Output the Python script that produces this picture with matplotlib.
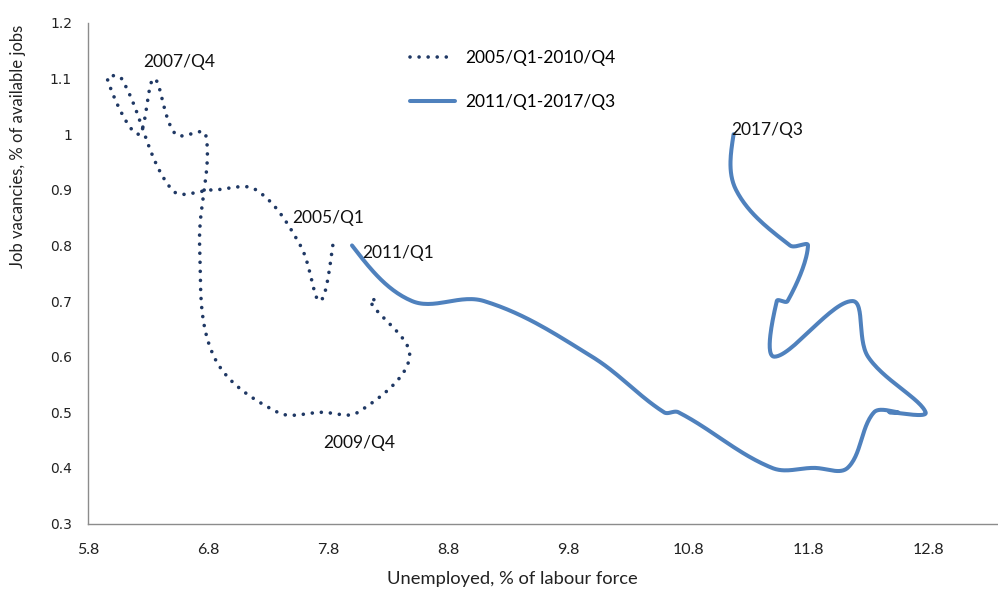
import numpy as np
import matplotlib
matplotlib.use("Agg")
import matplotlib.pyplot as plt

# ---- data ----
# Series 1: 2005/Q1 - 2010/Q4 (unemployment %, vacancy rate %)
u_0510 = [7.84, 7.73, 7.57, 7.20, 6.85, 6.50, 6.08, 5.96, 6.22, 6.35, 6.53, 6.78,
          6.73, 6.85, 7.38, 7.75, 8.05, 8.48, 8.15, 8.24]
v_0510 = [0.80, 0.70, 0.80, 0.90, 0.90, 0.90, 1.10, 1.10, 1.00, 1.10, 1.00, 1.00,
          0.80, 0.60, 0.50, 0.50, 0.50, 0.60, 0.70, 0.70]
# Series 2: 2011/Q1 - 2017/Q3
u_1117 = [8.00, 8.50, 9.10, 10.00, 10.60, 10.72, 11.50, 11.85, 12.13, 12.35, 12.55,
          12.48, 12.78, 12.30, 12.17, 11.52, 11.54, 11.63, 11.80, 11.65, 11.20, 11.18]
v_1117 = [0.80, 0.70, 0.70, 0.60, 0.50, 0.50, 0.40, 0.40, 0.40, 0.50, 0.50,
          0.50, 0.50, 0.60, 0.70, 0.60, 0.70, 0.70, 0.80, 0.80, 0.90, 1.00]

series_names = ["2005/Q1-2010/Q4", "2011/Q1-2017/Q3"]
point_labels = ["2007/Q4", "2005/Q1", "2011/Q1", "2009/Q4", "2017/Q3"]
label_x = [6.56, 7.80, 8.38, 8.06, 11.46]
label_y = [1.13, 0.85, 0.787, 0.445, 1.008]

x_ticks = [5.8, 6.8, 7.8, 8.8, 9.8, 10.8, 11.8, 12.8]
y_ticks = [0.3, 0.4, 0.5, 0.6, 0.7, 0.8, 0.9, 1.0, 1.1, 1.2]
y_tick_labels = ["0.3", "0.4", "0.5", "0.6", "0.7", "0.8", "0.9", "1", "1.1", "1.2"]

W, H = 998, 589
PX_X, PX_Y = 120.0, 556.1   # screen pixels per data unit (used for smoothing only)


def smooth(xs, ys, tension=0.36, n=30):
    """Excel-like smoothed line: cubic Bezier through the points, with
    control arms proportional to the neighbouring segment lengths."""
    P = np.column_stack([np.asarray(xs, float) * PX_X, np.asarray(ys, float) * PX_Y])
    m = len(P)
    cb = P.copy()
    ca = P.copy()
    for i in range(1, m - 1):
        d0 = np.linalg.norm(P[i] - P[i - 1])
        d1 = np.linalg.norm(P[i + 1] - P[i])
        T = P[i + 1] - P[i - 1]
        s = d0 + d1 if d0 + d1 > 0 else 1.0
        cb[i] = P[i] - T * tension * d0 / s
        ca[i] = P[i] + T * tension * d1 / s
    ca[0] = P[0] + (cb[1] - P[0]) * 0.5
    cb[-1] = P[-1] + (ca[-2] - P[-1]) * 0.5
    t = np.linspace(0, 1, n, endpoint=False)[:, None]
    out = []
    for i in range(m - 1):
        seg = ((1 - t) ** 3) * P[i] + 3 * (1 - t) ** 2 * t * ca[i] \
            + 3 * (1 - t) * t ** 2 * cb[i + 1] + t ** 3 * P[i + 1]
        out.append(seg)
    out.append(P[-1][None, :])
    S = np.vstack(out)
    return S[:, 0] / PX_X, S[:, 1] / PX_Y


fig = plt.figure(figsize=(W / 100, H / 100), dpi=100)
ax = fig.add_axes([88 / W, (H - 523.5) / H, (W - 88) / W, (523.5 - 23) / H])

navy = "#1F3864"
blue = "#4F81BD"

sx, sy = smooth(u_0510, v_0510)
ax.plot(sx, sy, color=navy, lw=2.6, linestyle=(0, (0.01, 2.5)),
        dash_capstyle="round", solid_capstyle="round", label=series_names[0])
sx2, sy2 = smooth(u_1117, v_1117)
ax.plot(sx2, sy2, color=blue, lw=2.9, solid_capstyle="round",
        solid_joinstyle="round", label=series_names[1])

for txt, lx, ly in zip(point_labels, label_x, label_y):
    ax.text(lx, ly, txt, ha="center", va="center", fontsize=12.5,
            family="Lato", color="#111111")

ax.set_xlim(5.8, 5.8 + (W - 88) / 120.0)
ax.set_ylim(0.3, 1.2)
ax.set_xticks(x_ticks)
ax.set_xticklabels([f"{v:.1f}" for v in x_ticks], family="Lato", fontsize=11.5)
ax.set_yticks(y_ticks)
ax.set_yticklabels(y_tick_labels, family="DejaVu Sans", fontsize=10)
ax.tick_params(axis="x", length=0, pad=14, colors="#222222")
ax.tick_params(axis="y", length=0, pad=11.5, colors="#222222")

for s in ["top", "right"]:
    ax.spines[s].set_visible(False)
for s in ["left", "bottom"]:
    ax.spines[s].set_color("#8C8C8C")
    ax.spines[s].set_linewidth(1.0)

leg = ax.legend(loc="upper left", bbox_to_anchor=(410 / W, 1 - 50 / H),
                bbox_transform=fig.transFigure, frameon=False, borderaxespad=0,
                borderpad=0, handlelength=2.6, handletextpad=0.57,
                labelspacing=1.62, prop={"family": "Lato", "size": 12.5})

fig.text(512 / W, 1 - 579 / H, "Unemployed, % of labour force", ha="center",
         va="center", family="Lato", fontsize=13.2, color="#222222")
fig.text(18 / W, 1 - 146 / H, "Job vacancies, % of available jobs", ha="center",
         va="center", rotation=90, family="Lato", fontsize=12, color="#222222")

fig.savefig("out.png", dpi=100)
